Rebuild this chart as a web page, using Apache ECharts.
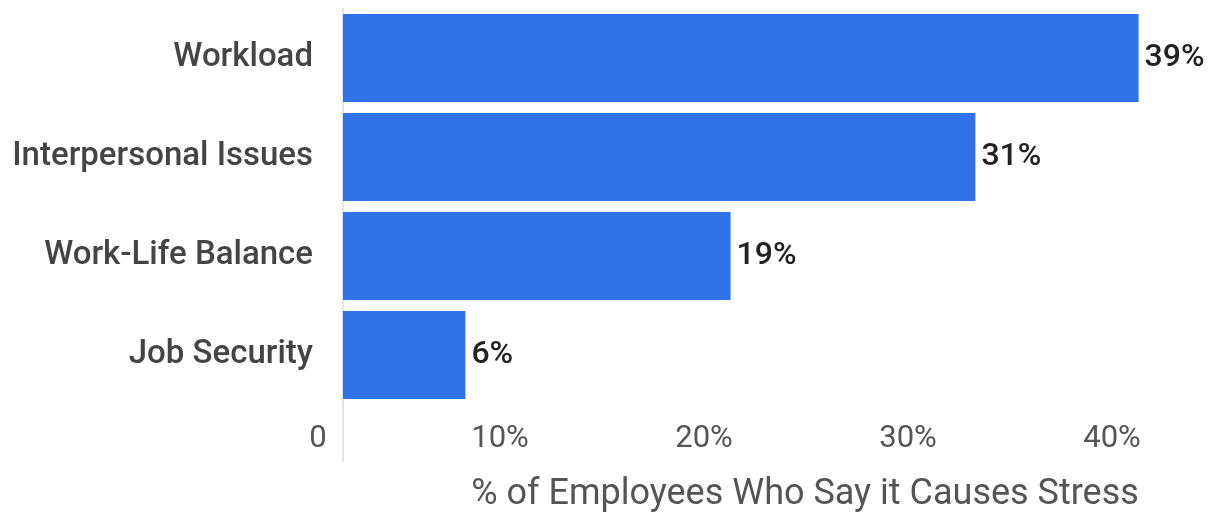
<!DOCTYPE html>
<html>
<head>
<meta charset="utf-8">
<script src="https://cdn.jsdelivr.net/npm/echarts@6/dist/echarts.min.js"></script>
<style>
  html, body { margin: 0; padding: 0; background: #fff; }
  #chart { width: 1215px; height: 514px; }
</style>
</head>
<body>
<div id="chart"></div>
<script>
  // data
  var categories = ['Workload', 'Interpersonal Issues', 'Work-Life Balance', 'Job Security']
  var values = [39, 31, 19, 6]
  var xTicks = [0, 10, 20, 30, 40]

  var chart = echarts.init(document.getElementById('chart'))
  var option = {
    animation: false,
    grid: { left: 343, right: 56, top: 8.5, bottom: 109.5, containLabel: false, outerBoundsMode: 'none' },
    xAxis: {
      type: 'value',
      min: xTicks[0],
      max: xTicks[xTicks.length - 1],
      interval: 10,
      axisLine: { show: false },
      axisTick: { show: false },
      splitLine: { show: false },
      axisLabel: {
        margin: 19,
        formatter: function (v) {
          return v === 0 ? '{z|0}' : '{t|' + v + '%}'
        },
        rich: {
          z: { fontFamily: 'Roboto', fontSize: 31, color: '#555', padding: [0, 50, 0, 0] },
          t: { fontFamily: 'Roboto', fontSize: 31, color: '#555', padding: [0, 94, 0, 0] }
        }
      },
      name: '% of Employees Who Say it Causes Stress',
      nameLocation: 'middle',
      nameGap: 72,
      nameTextStyle: { fontFamily: 'Roboto', fontSize: 36, color: '#555', padding: [0, 0, 0, 108] }
    },
    yAxis: {
      type: 'category',
      data: categories,
      inverse: true,
      axisTick: { show: false },
      axisLine: { show: true, lineStyle: { color: '#dcdcdc', width: 1.5 } },
      axisLabel: { margin: 30, fontFamily: 'Roboto', fontSize: 33, fontWeight: 500, color: '#444' }
    },
    graphic: [{
      type: 'line',
      shape: { x1: 343, y1: 404, x2: 343, y2: 462 },
      style: { stroke: '#dcdcdc', lineWidth: 1.5 }
    }],
    series: [{
      type: 'bar',
      data: values,
      barCategoryGap: '11%',
      itemStyle: { color: '#3172e8' },
      label: {
        show: true,
        position: 'right',
        distance: 6,
        formatter: '{c}%',
        fontFamily: 'Roboto',
        fontSize: 32,
        fontWeight: 500,
        color: '#222'
      }
    }]
  }
  chart.setOption(option)
</script>
</body>
</html>
